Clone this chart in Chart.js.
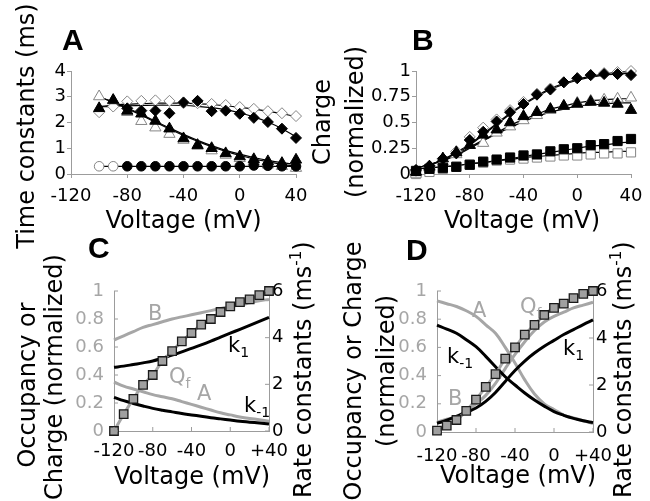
<!DOCTYPE html>
<html>
<head>
<meta charset="utf-8">
<script src="https://cdn.jsdelivr.net/npm/chart.js@4.4.0/dist/chart.umd.min.js"></script>
<style>
  body { margin: 0; background: #fff; }
  #wrap { position: relative; width: 650px; height: 501px; background: #fff; }
  #wrap canvas { position: absolute; left: 0; top: 0; }
</style>
</head>
<body>
<div id="wrap">
  <canvas id="chartA" width="650" height="501"></canvas>
  <canvas id="chartB" width="650" height="501"></canvas>
  <canvas id="chartC" width="650" height="501"></canvas>
  <canvas id="chartD" width="650" height="501"></canvas>
</div>
<script>
// voltages (mV)
const voltsA = [-100, -90, -80, -70, -60, -50, -40, -30, -20, -10, 0, 10, 20, 30, 40];
const volts = [-120, -110, -100, -90, -80, -70, -60, -50, -40, -30, -20, -10, 0, 10, 20, 30, 40];

// panel A: time constants (ms)
const tauOpenDiamond = [2.40, 2.62, 2.82, 2.84, 2.86, 2.84, 2.75, 2.75, 2.72, 2.68, 2.60, 2.53, 2.44, 2.36, 2.25];
const tauFilledDiamond = [null, null, 2.55, 2.46, 2.46, 2.36, 2.78, 2.84, 2.44, 2.46, 2.34, 2.18, 2.02, 1.76, 1.40];
const tauOpenTriangle = [3.01, 2.85, 2.40, 2.05, 1.80, 1.55, 1.32, 1.09, 0.91, 0.74, 0.61, 0.49, 0.36, 0.30, 0.23];
const tauFilledTriangle = [2.55, 2.87, 2.45, 2.34, 2.06, 1.76, 1.38, 1.12, 1.00, 0.80, 0.68, 0.57, 0.49, 0.42, 0.55];
const tauOpenCircle = [0.30, 0.30, null, null, null, null, null, null, null, null, null, null, null, null, null];
const tauFilledCircle = [null, null, 0.30, 0.30, 0.30, 0.30, 0.30, 0.30, 0.30, 0.30, 0.30, 0.33, 0.32, 0.30, 0.30];
const fitOpenDiamond = [2.62, 2.67, 2.71, 2.73, 2.75, 2.75, 2.75, 2.73, 2.70, 2.65, 2.59, 2.52, 2.44, 2.34, 2.23];
const fitFilledDiamond = [2.60, 2.63, 2.65, 2.66, 2.67, 2.67, 2.66, 2.63, 2.58, 2.50, 2.38, 2.22, 2.02, 1.76, 1.45];
const fitOpenTriangle = [3.00, 2.78, 2.54, 2.28, 2.01, 1.75, 1.50, 1.27, 1.06, 0.88, 0.72, 0.59, 0.48, 0.38, 0.30];
const fitFilledTriangle = [2.98, 2.80, 2.57, 2.31, 2.05, 1.79, 1.54, 1.31, 1.10, 0.92, 0.77, 0.64, 0.53, 0.44, 0.37];
const fitCircle = [0.30, 0.30, 0.30, 0.30, 0.30, 0.30, 0.30, 0.30, 0.30, 0.30, 0.30, 0.30, 0.30, 0.30, 0.30];

// panel B: normalized charge
const qOpenDiamond = [0.03, 0.07, 0.14, 0.22, 0.36, 0.45, 0.53, 0.62, 0.70, 0.78, 0.83, 0.89, 0.93, 0.96, 0.98, 0.99, 1.00];
const qFilledDiamond = [0.04, 0.08, 0.15, 0.20, 0.33, 0.41, 0.51, 0.60, 0.68, 0.77, 0.82, 0.89, 0.93, 0.96, 0.97, 0.97, 0.96];
const qOpenTriangle = [0.00, 0.06, 0.12, 0.19, 0.28, 0.30, 0.40, 0.46, 0.52, 0.57, 0.62, 0.66, 0.69, 0.71, 0.72, 0.73, 0.74];
const qFilledTriangle = [0.02, 0.07, 0.15, 0.21, 0.28, 0.38, 0.43, 0.50, 0.56, 0.60, 0.63, 0.66, 0.68, 0.70, 0.69, 0.68, 0.62];
const qFilledSquare = [0.03, 0.05, 0.06, 0.07, 0.09, 0.12, 0.14, 0.16, 0.18, 0.19, 0.22, 0.24, 0.25, 0.28, 0.29, 0.32, 0.34];
const qOpenSquare = [0.00, 0.02, 0.05, 0.07, 0.09, 0.11, 0.13, 0.14, 0.15, 0.16, 0.17, 0.18, 0.18, 0.19, 0.20, 0.20, 0.21];
const qFitOpenDiamond = [0.06, 0.09, 0.14, 0.21, 0.29, 0.39, 0.49, 0.59, 0.68, 0.76, 0.83, 0.88, 0.92, 0.95, 0.97, 0.99, 0.99];
const qFitFilledDiamond = [0.06, 0.09, 0.14, 0.20, 0.28, 0.38, 0.48, 0.58, 0.67, 0.75, 0.82, 0.87, 0.91, 0.94, 0.96, 0.97, 0.98];
const qFitOpenTriangle = [0.06, 0.09, 0.13, 0.19, 0.26, 0.33, 0.40, 0.47, 0.53, 0.58, 0.63, 0.66, 0.69, 0.71, 0.72, 0.73, 0.73];
const qFitFilledTriangle = [0.06, 0.09, 0.13, 0.18, 0.25, 0.32, 0.39, 0.45, 0.51, 0.56, 0.60, 0.63, 0.66, 0.67, 0.68, 0.69, 0.69];
const qFitFilledSquare = [0.05, 0.06, 0.07, 0.08, 0.10, 0.11, 0.13, 0.15, 0.17, 0.19, 0.21, 0.23, 0.25, 0.27, 0.28, 0.30, 0.31];
const qFitOpenSquare = [0.05, 0.06, 0.07, 0.08, 0.10, 0.11, 0.13, 0.14, 0.16, 0.17, 0.18, 0.19, 0.20, 0.21, 0.21, 0.22, 0.22];

// panel C: model occupancies, Qf and rate constants
const cOccB = [0.65, 0.68, 0.71, 0.74, 0.76, 0.78, 0.80, 0.815, 0.83, 0.845, 0.86, 0.875, 0.89, 0.90, 0.915, 0.93, 0.94];
const cOccA = [0.35, 0.32, 0.30, 0.28, 0.26, 0.245, 0.23, 0.21, 0.19, 0.17, 0.15, 0.13, 0.115, 0.10, 0.09, 0.08, 0.07];
const cK1 = [2.73, 2.78, 2.85, 2.92, 3.00, 3.12, 3.25, 3.39, 3.54, 3.69, 3.85, 4.02, 4.19, 4.36, 4.53, 4.70, 4.87];
const cKm1 = [1.44, 1.30, 1.18, 1.07, 0.97, 0.89, 0.82, 0.75, 0.69, 0.63, 0.57, 0.52, 0.47, 0.42, 0.38, 0.34, 0.30];
const cQf = [0.00, 0.12, 0.23, 0.33, 0.40, 0.50, 0.57, 0.64, 0.70, 0.76, 0.80, 0.85, 0.89, 0.92, 0.94, 0.97, 1.00];

// panel D
const dOccA = [0.93, 0.91, 0.89, 0.86, 0.82, 0.76, 0.70, 0.60, 0.49, 0.37, 0.27, 0.20, 0.16, 0.12, 0.10, 0.08, 0.06];
const dOccB = [0.07, 0.09, 0.11, 0.15, 0.20, 0.26, 0.345, 0.45, 0.55, 0.64, 0.72, 0.78, 0.82, 0.85, 0.88, 0.90, 0.92];
const dK1 = [0.37, 0.50, 0.66, 0.83, 1.02, 1.30, 1.68, 2.15, 2.62, 3.02, 3.36, 3.65, 3.90, 4.15, 4.36, 4.57, 4.77];
const dKm1 = [4.55, 4.38, 4.20, 3.93, 3.63, 3.22, 2.78, 2.35, 2.00, 1.66, 1.36, 1.10, 0.87, 0.71, 0.58, 0.48, 0.40];
const dQf = [0.01, 0.045, 0.085, 0.15, 0.23, 0.32, 0.41, 0.52, 0.60, 0.69, 0.76, 0.83, 0.88, 0.91, 0.95, 0.98, 1.00];

Chart.defaults.font.family = 'DejaVu Sans';
Chart.defaults.animation = false;

const AXIS = '#9c9c9c';
const GRAY = '#a6a6a6';
const OPEN = '#858585';

// fixed scale box sizes, so the plot areas land where the figure has them
const YW = 50, XH = 40;

function xy(xs, ys) {
  return xs.map((x, i) => ({ x: x, y: ys[i] }));
}

function marker(xs, ys, style, r, filled) {
  return {
    data: xy(xs, ys), showLine: false, clip: false,
    pointStyle: style, pointRadius: r, pointHoverRadius: r,
    pointBackgroundColor: filled ? '#000' : '#fff',
    pointBorderColor: filled ? '#000' : OPEN,
    pointBorderWidth: 1
  };
}

function curve(xs, ys, color, width, axis) {
  return {
    data: xy(xs, ys), showLine: true, clip: false,
    borderColor: color, borderWidth: width, pointRadius: 0, tension: 0.4,
    yAxisID: axis || 'y'
  };
}

function qfSquares(xs, ys) {
  return {
    data: xy(xs, ys), showLine: true, clip: false,
    borderColor: GRAY, borderWidth: 3, tension: 0.3,
    pointStyle: 'rect', pointRadius: 6, pointHoverRadius: 6,
    pointBackgroundColor: '#a0a0a0', pointBorderColor: '#1a1a1a', pointBorderWidth: 1.3
  };
}

const round2 = v => String(Math.round(v * 100) / 100);
const signed = v => (v > 0 ? '+' + v : String(v));
const fitBox = s => { if (s.isHorizontal()) s.height = XH; else s.width = YW; };

// axis with ticks pointing out (panels A and B)
function outerAxis(pos, min, max, step, fmt) {
  return {
    type: 'linear', position: pos, min: min, max: max, afterFit: fitBox,
    ticks: {
      stepSize: step, autoSkip: false, maxRotation: 0, minRotation: 0,
      color: '#000', font: { size: 18 }, padding: pos === 'bottom' ? 7.5 : 1,
      callback: fmt || round2
    },
    grid: { drawOnChartArea: false, drawTicks: true, tickLength: 4, color: AXIS },
    border: { color: AXIS, width: 1 }
  };
}

// axis with ticks pointing in (panels C and D)
function innerAxis(pos, min, max, step, color, pad, fmt) {
  return {
    type: 'linear', position: pos, min: min, max: max, afterFit: fitBox,
    ticks: {
      stepSize: step, autoSkip: false, maxRotation: 0, minRotation: 0,
      color: color, font: { size: 18 }, padding: pad,
      callback: fmt || round2
    },
    grid: { drawOnChartArea: false, drawTicks: false, color: AXIS },
    border: { color: AXIS, width: 1 }
  };
}

function drawText(ctx, it) {
  ctx.save();
  ctx.translate(it.x, it.y);
  if (it.rot) ctx.rotate(it.rot * Math.PI / 180);
  ctx.fillStyle = it.color || '#000';
  ctx.textBaseline = 'alphabetic';
  ctx.textAlign = 'left';
  const fam = it.family || '"DejaVu Sans"';
  const parts = it.parts || [{ t: it.text }];
  const fontOf = p => (it.bold ? 'bold ' : '') + (p.size || it.size) + 'px ' + fam;
  let total = 0;
  parts.forEach(p => { ctx.font = fontOf(p); p.w = ctx.measureText(p.t).width; total += p.w; });
  let cx = it.align === 'center' ? -total / 2 : 0;
  parts.forEach(p => { ctx.font = fontOf(p); ctx.fillText(p.t, cx, p.dy || 0); cx += p.w; });
  ctx.restore();
}

const panelText = {
  id: 'panelText',
  beforeDatasetsDraw(chart, args, opts) {
    (opts.items || []).forEach(it => drawText(chart.ctx, it));
  }
};

const innerTicks = {
  id: 'innerTicks',
  afterDraw(chart, args, o) {
    const ctx = chart.ctx;
    ctx.save();
    ctx.strokeStyle = AXIS;
    ctx.lineWidth = 1;
    Object.values(chart.scales).forEach(s => {
      s.ticks.forEach(t => {
        const p = s.getPixelForValue(t.value);
        ctx.beginPath();
        if (s.position === 'bottom') { ctx.moveTo(p, s.top); ctx.lineTo(p, s.top - o.len); }
        else if (s.position === 'left') { ctx.moveTo(s.right, p); ctx.lineTo(s.right + o.len, p); }
        else { ctx.moveTo(s.left, p); ctx.lineTo(s.left - o.len, p); }
        ctx.stroke();
      });
    });
    ctx.restore();
  }
};

// area = [left, top, right, bottom] of the plot area in page pixels
function baseOptions(area, items, scales, ticks) {
  const rightW = scales.y1 ? YW : 0;
  return {
    responsive: false, animation: false, events: [],
    layout: { padding: { left: area[0] - YW, top: area[1], right: 650 - area[2] - rightW, bottom: 501 - area[3] - XH } },
    plugins: {
      legend: { display: false }, tooltip: { enabled: false },
      panelText: { items: items },
      innerTicks: { len: ticks || 0 }
    },
    scales: scales
  };
}

const letter = (t, x, y) => ({ text: t, x: x, y: y, size: 30, bold: true, family: '"Liberation Sans"' });
const sub = (main, s, x, y, color) => ({ parts: [{ t: main }, { t: s, size: 14, dy: 5 }], x: x, y: y, size: 21, color: color });
const rateTitle = x => ({
  parts: [{ t: 'Rate constants (ms' }, { t: '-1', size: 15, dy: -10 }, { t: ')' }],
  x: x, y: 498, rot: -90, size: 24
});

// ---- A ----
new Chart(document.getElementById('chartA'), {
  type: 'scatter',
  data: {
    datasets: [
      marker(voltsA, tauFilledCircle, 'circle', 4.8, true),
      marker(voltsA, tauOpenCircle, 'circle', 4.8, false),
      marker(voltsA, tauFilledTriangle, 'triangle', 6.5, true),
      marker(voltsA, tauFilledDiamond, 'rectRot', 5.5, true),
      marker(voltsA, tauOpenTriangle, 'triangle', 6.5, false),
      marker(voltsA, tauOpenDiamond, 'rectRot', 5.5, false),
      curve(voltsA, fitCircle, '#000', 1.2),
      curve(voltsA, fitFilledTriangle, '#000', 1.2),
      curve(voltsA, fitOpenTriangle, '#000', 1.2),
      curve(voltsA, fitFilledDiamond, '#000', 1.2),
      curve(voltsA, fitOpenDiamond, '#000', 1.2)
    ]
  },
  options: baseOptions([71, 71, 296, 174], [
    letter('A', 62, 50),
    { text: 'Time constants (ms)', x: 34, y: 126, rot: -90, align: 'center', size: 24 },
    { text: 'Voltage (mV)', x: 183.5, y: 228, align: 'center', size: 24 }
  ], {
    x: outerAxis('bottom', -120, 40, 40, v => String(v)),
    y: outerAxis('left', 0, 4, 1)
  }),
  plugins: [panelText]
});

// ---- B ----
new Chart(document.getElementById('chartB'), {
  type: 'scatter',
  data: {
    datasets: [
      marker(volts, qFilledDiamond, 'rectRot', 5.5, true),
      marker(volts, qFilledTriangle, 'triangle', 6.5, true),
      marker(volts, qFilledSquare, 'rect', 6.5, true),
      marker(volts, qOpenDiamond, 'rectRot', 5.5, false),
      marker(volts, qOpenTriangle, 'triangle', 6.5, false),
      marker(volts, qOpenSquare, 'rect', 6.5, false),
      curve(volts, qFitOpenDiamond, '#000', 1.2),
      curve(volts, qFitFilledDiamond, '#000', 1.2),
      curve(volts, qFitOpenTriangle, '#000', 1.2),
      curve(volts, qFitFilledTriangle, '#000', 1.2),
      curve(volts, qFitFilledSquare, '#000', 1.2),
      curve(volts, qFitOpenSquare, '#000', 1.2)
    ]
  },
  options: baseOptions([416, 71, 631, 174], [
    letter('B', 412, 50),
    { text: 'Charge', x: 329.5, y: 122, rot: -90, align: 'center', size: 24 },
    { text: '(normalized)', x: 363, y: 122, rot: -90, align: 'center', size: 24 },
    { text: 'Voltage (mV)', x: 522, y: 228, align: 'center', size: 24 }
  ], {
    x: outerAxis('bottom', -120, 40, 40, v => String(v)),
    y: outerAxis('left', 0, 1, 0.25)
  }),
  plugins: [panelText]
});

// ---- C ----
new Chart(document.getElementById('chartC'), {
  type: 'scatter',
  data: {
    datasets: [
      qfSquares(volts, cQf),
      curve(volts, cK1, '#000', 3, 'y1'),
      curve(volts, cKm1, '#000', 3, 'y1'),
      curve(volts, cOccB, GRAY, 3),
      curve(volts, cOccA, GRAY, 3)
    ]
  },
  options: baseOptions([114, 291, 269, 431], [
    letter('C', 88, 258),
    { text: 'Occupancy or', x: 35, y: 385, rot: -90, align: 'center', size: 24 },
    { text: 'Charge (normalized)', x: 62, y: 377, rot: -90, align: 'center', size: 24 },
    rateTitle(311),
    { text: 'Voltage (mV)', x: 192, y: 484, align: 'center', size: 24 },
    { text: 'B', x: 148, y: 320, size: 21, color: GRAY },
    { text: 'A', x: 197, y: 400, size: 21, color: GRAY },
    sub('Q', 'f', 169, 383, GRAY),
    sub('k', '1', 228, 352, '#000'),
    sub('k', '-1', 244, 412, '#000')
  ], {
    x: innerAxis('bottom', -120, 40, 40, '#000', 10, signed),
    y: innerAxis('left', 0, 1, 0.2, GRAY, 10),
    y1: innerAxis('right', 0, 6, 2, '#000', 3)
  }, 4),
  plugins: [panelText, innerTicks]
});

// ---- D ----
new Chart(document.getElementById('chartD'), {
  type: 'scatter',
  data: {
    datasets: [
      qfSquares(volts, dQf),
      curve(volts, dK1, '#000', 3, 'y1'),
      curve(volts, dKm1, '#000', 3, 'y1'),
      curve(volts, dOccB, GRAY, 3),
      curve(volts, dOccA, GRAY, 3)
    ]
  },
  options: baseOptions([437, 291, 593, 432], [
    letter('D', 406, 260),
    { text: 'Occupancy or Charge', x: 361, y: 371, rot: -90, align: 'center', size: 24 },
    { text: '(normalized)', x: 394, y: 371, rot: -90, align: 'center', size: 24 },
    rateTitle(631),
    { text: 'Voltage (mV)', x: 518, y: 483, align: 'center', size: 24 },
    { text: 'A', x: 472, y: 317, size: 21, color: GRAY },
    { text: 'B', x: 448, y: 405, size: 21, color: GRAY },
    sub('Q', 'f', 520, 313, GRAY),
    sub('k', '-1', 447, 363, '#000'),
    sub('k', '1', 563, 355, '#000')
  ], {
    x: innerAxis('bottom', -120, 40, 40, '#000', 13.5, signed),
    y: innerAxis('left', 0, 1, 0.2, GRAY, 10),
    y1: innerAxis('right', 0, 6, 2, '#000', 3)
  }, 4),
  plugins: [panelText, innerTicks]
});
</script>
</body>
</html>
